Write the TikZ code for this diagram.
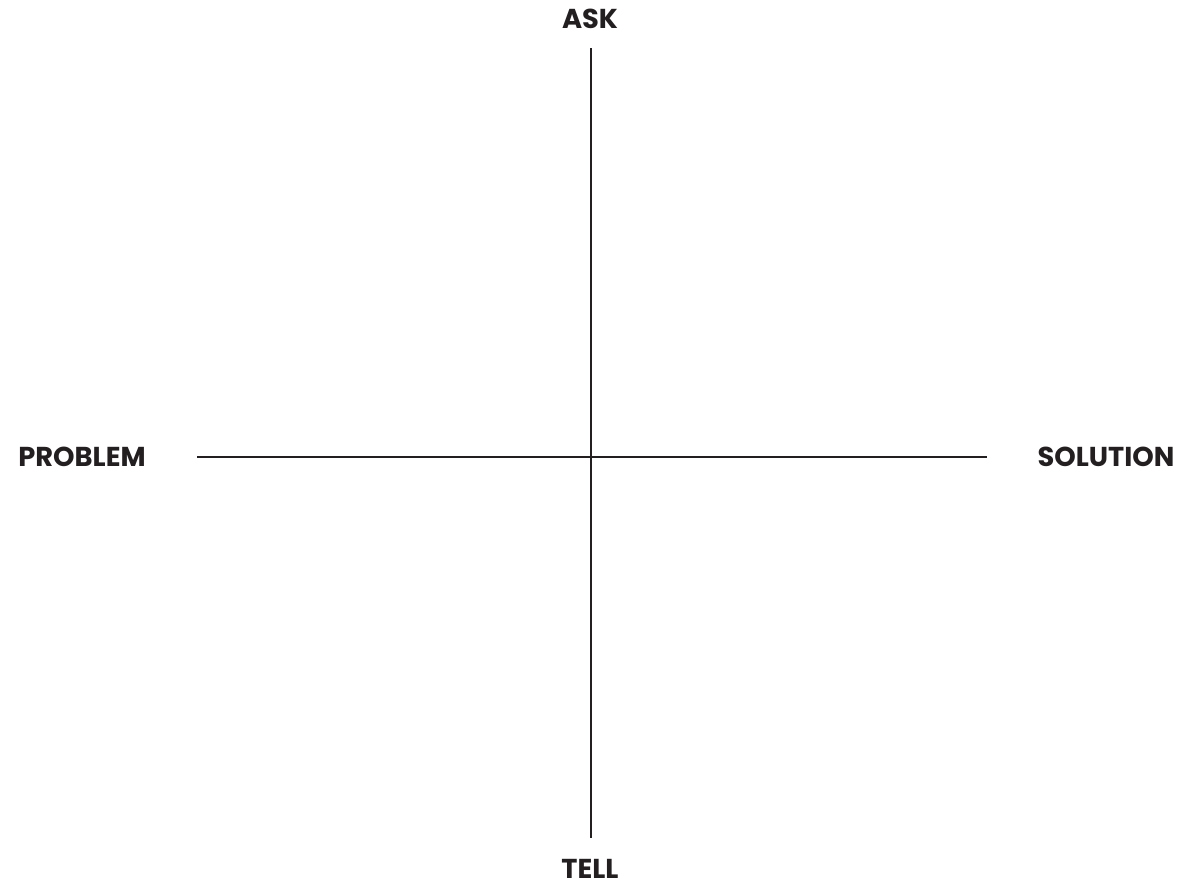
\documentclass[tikz,border=0pt]{standalone}
\usepackage{fontspec}
\setmainfont{Poppins}
\usepackage{tikz}
\usetikzlibrary{positioning}
\definecolor{inkGray}{HTML}{231F20}

\begin{document}
\begin{tikzpicture}[
  x=0.75pt, y=-0.75pt,
  font=\bfseries\fontsize{20.5}{24}\selectfont,
  axislabel/.style={text=inkGray, inner sep=0pt, anchor=center},
  axisline/.style={draw=inkGray, line width=1.5pt},
]
\useasboundingbox (0,0) rectangle (1193,886);

% labels at the four ends
\node[axislabel] (ask)      at (590,19)   {ASK};
\node[axislabel] (tell)     at (590,869)  {TELL};
\node[axislabel] (problem)  at (82,457)   {PROBLEM};
\node[axislabel] (solution) at (1106,457) {SOLUTION};

% axis end points
\coordinate (top)    at (591,48);
\coordinate (bottom) at (591,838);
\coordinate (left)   at (197,457);
\coordinate (right)  at (987,457);

\draw[axisline] (top)  -- (bottom);
\draw[axisline] (left) -- (right);

\end{tikzpicture}
\end{document}
